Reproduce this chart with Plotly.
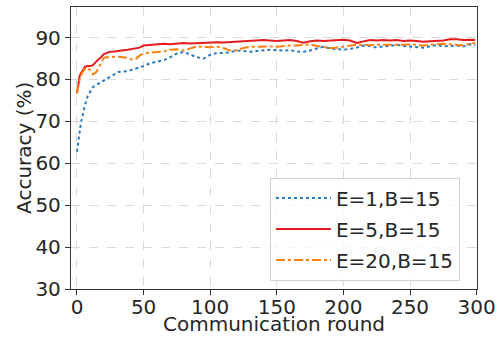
import plotly.graph_objects as go

rounds = [0, 1, 2, 3, 4, 5, 6, 8, 10, 12, 14, 16, 18, 20, 22, 25, 28, 31, 35, 38, 41, 44, 47,
          50, 55, 60, 65, 70, 75, 80, 85, 90, 95, 100, 105, 110, 115, 120, 125, 130, 135, 140,
          145, 150, 155, 160, 165, 170, 175, 180, 185, 190, 195, 200, 205, 210, 215, 220, 225,
          230, 235, 240, 245, 250, 255, 260, 265, 270, 275, 280, 285, 290, 295, 299]

acc_e1 = [62.8, 65.5, 68.0, 69.8, 71.0, 72.5, 73.9, 76.0, 77.3, 78.2, 78.6, 79.0, 79.3, 79.6,
          80.0, 80.6, 81.3, 81.8, 81.9, 82.0, 82.3, 82.6, 82.9, 83.2, 83.9, 84.3, 84.6, 85.3,
          86.2, 86.6, 86.0, 85.3, 85.0, 85.9, 86.3, 86.3, 86.5, 86.9, 86.8, 86.6, 86.8, 86.9,
          87.1, 87.0, 86.9, 87.0, 86.7, 86.6, 86.9, 87.4, 87.8, 87.4, 87.2, 87.1, 87.3, 87.6,
          88.1, 88.0, 87.6, 87.9, 88.0, 88.3, 88.0, 87.9, 87.8, 87.6, 87.9, 88.2, 87.9, 88.0,
          88.1, 87.9, 88.4, 88.2]

acc_e5 = [76.7, 79.4, 80.8, 81.5, 82.1, 82.6, 83.0, 83.2, 83.2, 83.4, 84.2, 84.8, 85.3, 86.0,
          86.3, 86.6, 86.7, 86.9, 87.0, 87.1, 87.3, 87.4, 87.6, 88.1, 88.2, 88.3, 88.5, 88.4,
          88.6, 88.7, 88.6, 88.7, 88.8, 88.8, 88.9, 88.8, 88.9, 89.0, 89.0, 89.1, 89.3, 89.4,
          89.3, 89.2, 89.3, 89.4, 89.2, 88.8, 89.1, 89.3, 89.2, 89.3, 89.4, 89.5, 89.3, 88.7,
          89.1, 89.4, 89.3, 89.4, 89.3, 89.4, 89.2, 89.3, 89.2, 89.0, 89.1, 89.2, 89.3, 89.6,
          89.6, 89.4, 89.5, 89.4]

acc_e20 = [76.7, 78.5, 80.0, 81.0, 81.8, 82.2, 82.5, 82.8, 82.2, 81.2, 81.6, 82.6, 84.0, 85.1,
           85.3, 85.4, 85.4, 85.4, 85.3, 85.2, 84.8, 84.9, 85.7, 86.2, 86.4, 86.6, 86.7, 87.1,
           87.2, 86.9, 87.4, 87.9, 87.8, 87.7, 87.8, 87.5, 86.9, 87.0, 87.5, 87.8, 87.8, 87.9,
           87.9, 87.8, 88.0, 88.1, 88.1, 88.3, 88.4, 88.0, 87.8, 87.5, 87.6, 87.8, 88.1, 88.3,
           88.3, 88.2, 88.3, 88.3, 88.2, 88.3, 88.3, 88.4, 88.2, 88.1, 88.3, 88.4, 88.5, 88.4,
           88.3, 88.1, 88.6, 88.7]

series_names = ["E=1,B=15", "E=5,B=15", "E=20,B=15"]
x_ticks = [0, 50, 100, 150, 200, 250, 300]
y_ticks = [30, 40, 50, 60, 70, 80, 90]
x_title = "Communication round"
y_title = "Accuracy (%)"

FONT = "DejaVu Sans"
TXT = "#262626"
AX = "#333333"

fig = go.Figure()
styles = [
    (acc_e1, "#2878c0", "dot"),
    (acc_e5, "#e41a1c", "solid"),
    (acc_e20, "#ff7f0e", "dashdot"),
]
for i, (vals, col, dash) in enumerate(styles):
    fig.add_trace(go.Scatter(
        x=rounds, y=vals, mode="lines", name=series_names[i],
        line=dict(color=col, width=2, dash=dash),
        legendgroup=f"g{i}",
    ))

fig.update_layout(
    width=502, height=337,
    margin=dict(l=71, r=25, t=7, b=48, autoexpand=False),
    paper_bgcolor="white", plot_bgcolor="white",
    font=dict(family=FONT, size=20, color=TXT),
    showlegend=True,
    legend=dict(
        x=0.958, y=0.03, xanchor="right", yanchor="bottom",
        bgcolor="rgba(255,255,255,0.8)", bordercolor="#d0d0d0", borderwidth=1,
        font=dict(family=FONT, size=20, color=TXT),
        tracegroupgap=2, itemwidth=55,
    ),
    annotations=[
        dict(
            text=y_title, textangle=-90, xref="paper", yref="paper",
            x=-0.116, y=0.5, xanchor="center", yanchor="middle", showarrow=False,
            font=dict(family=FONT, size=20, color=TXT),
        ),
        dict(
            text=x_title, xref="paper", yref="paper",
            x=0.5, y=-0.1702, xanchor="center", yanchor="bottom", showarrow=False,
            borderpad=0,
            font=dict(family=FONT, size=20, color=TXT),
        ),
    ],
)
fig.update_xaxes(
    range=[-4.5, 300.3], tickvals=x_ticks, ticktext=[str(v) for v in x_ticks],
    showgrid=True, gridcolor="#d9d9d9", griddash="dash", gridwidth=1,
    showline=True, linecolor=AX, linewidth=1.3, mirror=True,
    ticks="outside", ticklen=5, tickcolor=AX, zeroline=False, automargin=False,
    ticklabelstandoff=-5,
    tickfont=dict(family=FONT, size=20, color=TXT),
)
fig.update_yaxes(
    range=[30, 97.3], tickvals=y_ticks, ticktext=[str(v) for v in y_ticks],
    showgrid=True, gridcolor="#d9d9d9", griddash="dash", gridwidth=1,
    showline=True, linecolor=AX, linewidth=1.3, mirror=True,
    ticks="outside", ticklen=5, tickcolor=AX, zeroline=False, automargin=False,
    tickfont=dict(family=FONT, size=20, color=TXT),
)

fig.write_html("out.html", config={"displayModeBar": False})

# remove the browser's default page margin so the figure sits at the top-left corner
with open("out.html", "r", encoding="utf-8") as f:
    html = f.read()
html = html.replace("<head>", "<head><style>html,body{margin:0;padding:0;overflow:hidden;}</style>", 1)
with open("out.html", "w", encoding="utf-8") as f:
    f.write(html)
